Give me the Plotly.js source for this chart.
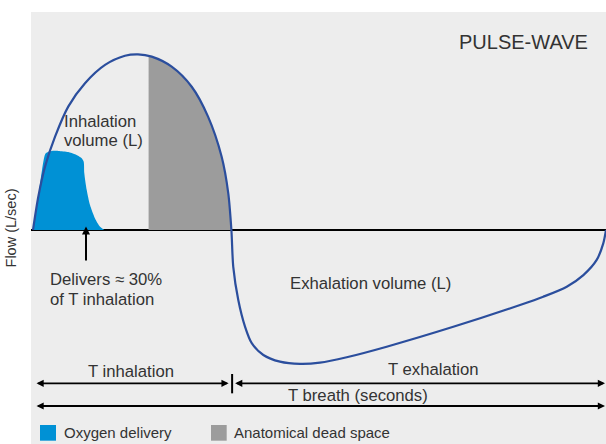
<!DOCTYPE html>
<html>
<head>
<meta charset="utf-8">
<script src="https://cdn.plot.ly/plotly-3.0.1.min.js"></script>
<style>html,body{margin:0;padding:0;background:#fff;}#chart{width:606px;height:444px;}</style>
</head>
<body>
<div id="chart"></div>
<script>
// ---- Data (time in seconds, flow in relative L/sec; peak inhalation = 1) ----
const inhaleT    = [0, 0.037, 0.084, 0.154, 0.246, 0.363, 0.503, 0.642, 0.733, 0.829, 0.968, 1.108, 1.222, 1.317, 1.363, 1.385];
const inhaleFlow = [0, 0.189, 0.360, 0.530, 0.701, 0.834, 0.938, 0.990, 0.998, 0.985, 0.928, 0.814, 0.644, 0.416, 0.210, 0];

const exhaleT    = [1.398, 1.433, 1.480, 1.527, 1.608, 1.724, 1.864, 2.003, 2.190, 2.469, 2.934, 3.400, 3.562, 3.726, 3.842, 3.935, 3.981, 4.000];
const exhaleFlow = [-0.209, -0.398, -0.549, -0.643, -0.710, -0.748, -0.761, -0.754, -0.723, -0.663, -0.550, -0.426, -0.379, -0.322, -0.256, -0.170, -0.076, 0];

const oxygenT    = [0, 0.037, 0.063, 0.089, 0.131, 0.177, 0.246, 0.293, 0.340, 0.354, 0.358, 0.375, 0.398, 0.433, 0.468, 0.498];
const oxygenFlow = [0, 0.189, 0.341, 0.436, 0.449, 0.449, 0.443, 0.430, 0.408, 0.388, 0.324, 0.227, 0.142, 0.066, 0.019, 0];

const deadSpaceT    = [0.807, 0.829, 0.968, 1.108, 1.222, 1.317, 1.363, 1.385];
const deadSpaceFlow = [0.987, 0.985, 0.928, 0.814, 0.644, 0.416, 0.210, 0];

const phaseBounds = [0, 1.39, 4.0];        // start, end of inhalation, end of breath
const deliveryMarkT = [0.37];               // end of oxygen delivery
const phaseLabels = ['T inhalation', 'T exhalation', 'T breath (seconds)'];
const legendLabels = ['Oxygen delivery', 'Anatomical dead space'];
const legendColors = ['#0091d5', '#9c9c9c'];

// ---- Layout helpers (pixel -> paper) ----
const W = 606, H = 444, ML = 31, MT = 12;
const PW = W - ML, PH = H - MT;
const px = x => (x - ML) / PW;
const py = y => (H - y) / PH;
const FONT = 'Liberation Sans, Arial, sans-serif';
const TXT = '#333333';
const FS = 16.7;

function label(text, x, y, xanchor, size) {
  return {text: text, xref: 'paper', yref: 'paper', x: px(x), y: py(y),
          xanchor: xanchor || 'left', yanchor: 'middle', showarrow: false, align: 'left',
          font: {family: FONT, size: size || FS, color: TXT}};
}
function dblArrow(x0, x1, y, s0, s1) {
  return {x: x1, y: y, ax: x0, ay: y, xref: 'x', yref: 'y', axref: 'x', ayref: 'y',
          text: '', showarrow: true, arrowside: 'end+start', arrowhead: 2, startarrowhead: 2,
          arrowsize: 0.8, startarrowsize: 0.8, arrowwidth: 1.8, arrowcolor: '#000',
          standoff: s1, startstandoff: s0};
}

const curveT = inhaleT.concat(exhaleT);
const curveFlow = inhaleFlow.concat(exhaleFlow);

const traces = [
  {x: oxygenT, y: oxygenFlow, mode: 'lines', name: legendLabels[0], fill: 'tozeroy',
   fillcolor: legendColors[0], line: {width: 0, shape: 'spline', smoothing: 0.7}, showlegend: false, hoverinfo: 'skip'},
  {x: deadSpaceT, y: deadSpaceFlow, mode: 'lines', name: legendLabels[1], fill: 'tozeroy',
   fillcolor: legendColors[1], line: {width: 0, shape: 'spline', smoothing: 0.8}, showlegend: false, hoverinfo: 'skip'},
  {x: curveT, y: curveFlow, mode: 'lines', name: 'Flow',
   line: {color: '#2b4e9d', width: 2.2, shape: 'spline', smoothing: 0.8}, showlegend: false}
];

const annotations = [
  label('PULSE-WAVE', 590, 42, 'right', 20),
  label('Inhalation', 61.7, 121.7),
  label('volume (L)', 61.7, 140.5),
  label('Delivers ≈ 30%', 48, 279.3),
  label('of T inhalation', 48, 299.3),
  label('Exhalation volume (L)', 288, 283),
  label(phaseLabels[0], 131, 371.5, 'center'),
  label(phaseLabels[1], 433.5, 369.5, 'center'),
  label(phaseLabels[2], 358.3, 395, 'center'),
  label(legendLabels[0], 62.3, 432.7, 'left', 15),
  label(legendLabels[1], 232, 432.7, 'left', 15),
  // arrows
  dblArrow(phaseBounds[0], phaseBounds[1], -0.871, 2, 3.5),
  dblArrow(phaseBounds[1], phaseBounds[2], -0.871, 1.5, 1),
  dblArrow(phaseBounds[0], phaseBounds[2], -1.0, 2, 1),
  {x: deliveryMarkT[0], y: 0.02, ax: deliveryMarkT[0], ay: -0.182, xref: 'x', yref: 'y', axref: 'x', ayref: 'y',
   text: '', showarrow: true, arrowhead: 2, arrowsize: 0.8, arrowwidth: 2, arrowcolor: '#000', standoff: 0}
];

const shapes = [
  {type: 'line', xref: 'x', yref: 'y', x0: phaseBounds[1], x1: phaseBounds[1], y0: -0.818, y1: -0.928,
   line: {color: '#000', width: 2}},
  {type: 'rect', xref: 'paper', yref: 'paper', x0: px(40), x1: px(56), y0: py(440.7), y1: py(425),
   fillcolor: legendColors[0], line: {width: 0}},
  {type: 'rect', xref: 'paper', yref: 'paper', x0: px(211), x1: px(226.7), y0: py(440.7), y1: py(425),
   fillcolor: legendColors[1], line: {width: 0}}
];

const layout = {
  width: W, height: H,
  margin: {l: ML, r: 0, t: MT, b: 0, pad: 0},
  paper_bgcolor: '#ffffff', plot_bgcolor: '#ededed',
  font: {family: FONT, color: TXT},
  showlegend: false,
  xaxis: {range: [(31 - 33) / 143.25, 4.0], showgrid: false, zeroline: false,
          showticklabels: false, ticks: '', showline: false, fixedrange: true},
  yaxis: {range: [(230 - 444) / 176, (230 - 12) / 176], showgrid: false, zeroline: true,
          zerolinecolor: '#000', zerolinewidth: 1.5, showticklabels: false, ticks: '', showline: false,
          fixedrange: true,
          title: {text: 'Flow (L/sec)', font: {family: FONT, size: 14.5, color: TXT}, standoff: 9}},
  annotations: annotations,
  shapes: shapes
};

Plotly.newPlot('chart', traces, layout, {displayModeBar: false, staticPlot: true});
</script>
</body>
</html>
